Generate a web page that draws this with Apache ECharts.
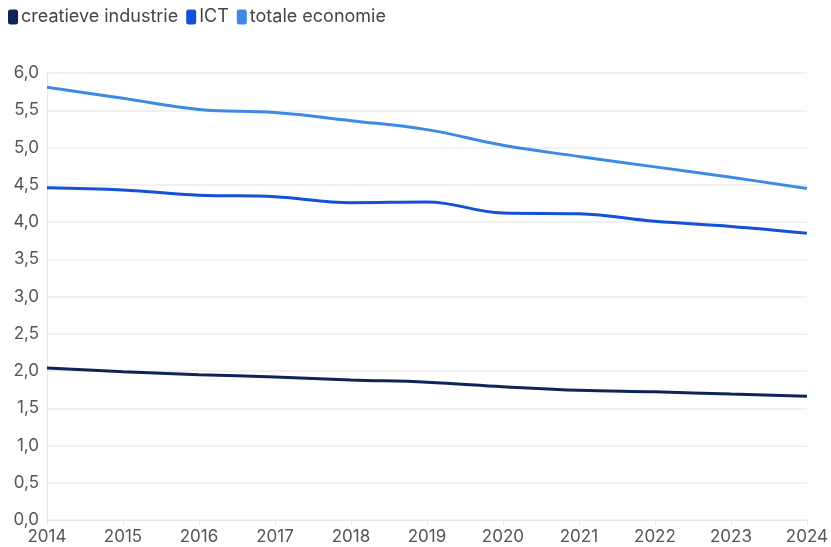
<!DOCTYPE html>
<html>
<head>
<meta charset="utf-8">
<script src="https://cdn.jsdelivr.net/npm/echarts@6/dist/echarts.min.js"></script>
<style>html,body{margin:0;padding:0;background:#fff}#c{width:831px;height:547px}</style>
</head>
<body>
<div id="c"></div>
<script>
var years = ['2014','2015','2016','2017','2018','2019','2020','2021','2022','2023','2024'];
var creatieve = [2.04, 1.99, 1.95, 1.92, 1.88, 1.85, 1.79, 1.74, 1.72, 1.69, 1.66];
var ict = [4.46, 4.43, 4.36, 4.34, 4.26, 4.27, 4.12, 4.11, 4.01, 3.94, 3.85];
var totale = [5.81, 5.66, 5.51, 5.47, 5.36, 5.24, 5.03, 4.88, 4.74, 4.60, 4.45];
var names = ['creatieve industrie', 'ICT', 'totale economie'];
var colors = ['#0f2456', '#1351d8', '#3d8ae5'];
var font = 'Inter, "Noto Sans", sans-serif';
var chart = echarts.init(document.getElementById('c'));
function mk(name, data, color) {
  return {name: name, type: 'line', data: data, smooth: 0.4, symbol: 'none',
    lineStyle: {width: 3, color: color}, itemStyle: {color: color}};
}
chart.setOption({
  animation: false,
  color: colors,
  legend: {left: 3, top: 3, icon: 'roundRect', itemWidth: 10, itemHeight: 15, itemGap: 8,
    textStyle: {fontSize: 18, color: '#444', fontFamily: font, padding: [0, 0, 0, -2]},
    data: names},
  grid: {left: 47, right: 23, top: 73, bottom: 27},
  xAxis: {type: 'category', data: years, boundaryGap: false,
    axisLine: {show: true, lineStyle: {color: '#e6e6e6'}},
    axisTick: {show: true, lineStyle: {color: '#e6e6e6'}, length: 5},
    axisLabel: {fontSize: 17, color: '#555', fontFamily: font, margin: 8}},
  yAxis: {type: 'value', min: 0, max: 6, interval: 0.5,
    axisLine: {show: true, lineStyle: {color: '#e6e6e6'}},
    splitLine: {lineStyle: {color: '#ececec', width: 1.5}},
    axisLabel: {fontSize: 17, color: '#555', fontFamily: font, margin: 8,
      formatter: function (v) { return v.toFixed(1).replace('.', ','); }}},
  series: [mk(names[0], creatieve, colors[0]), mk(names[1], ict, colors[1]), mk(names[2], totale, colors[2])]
});
</script>
</body>
</html>
